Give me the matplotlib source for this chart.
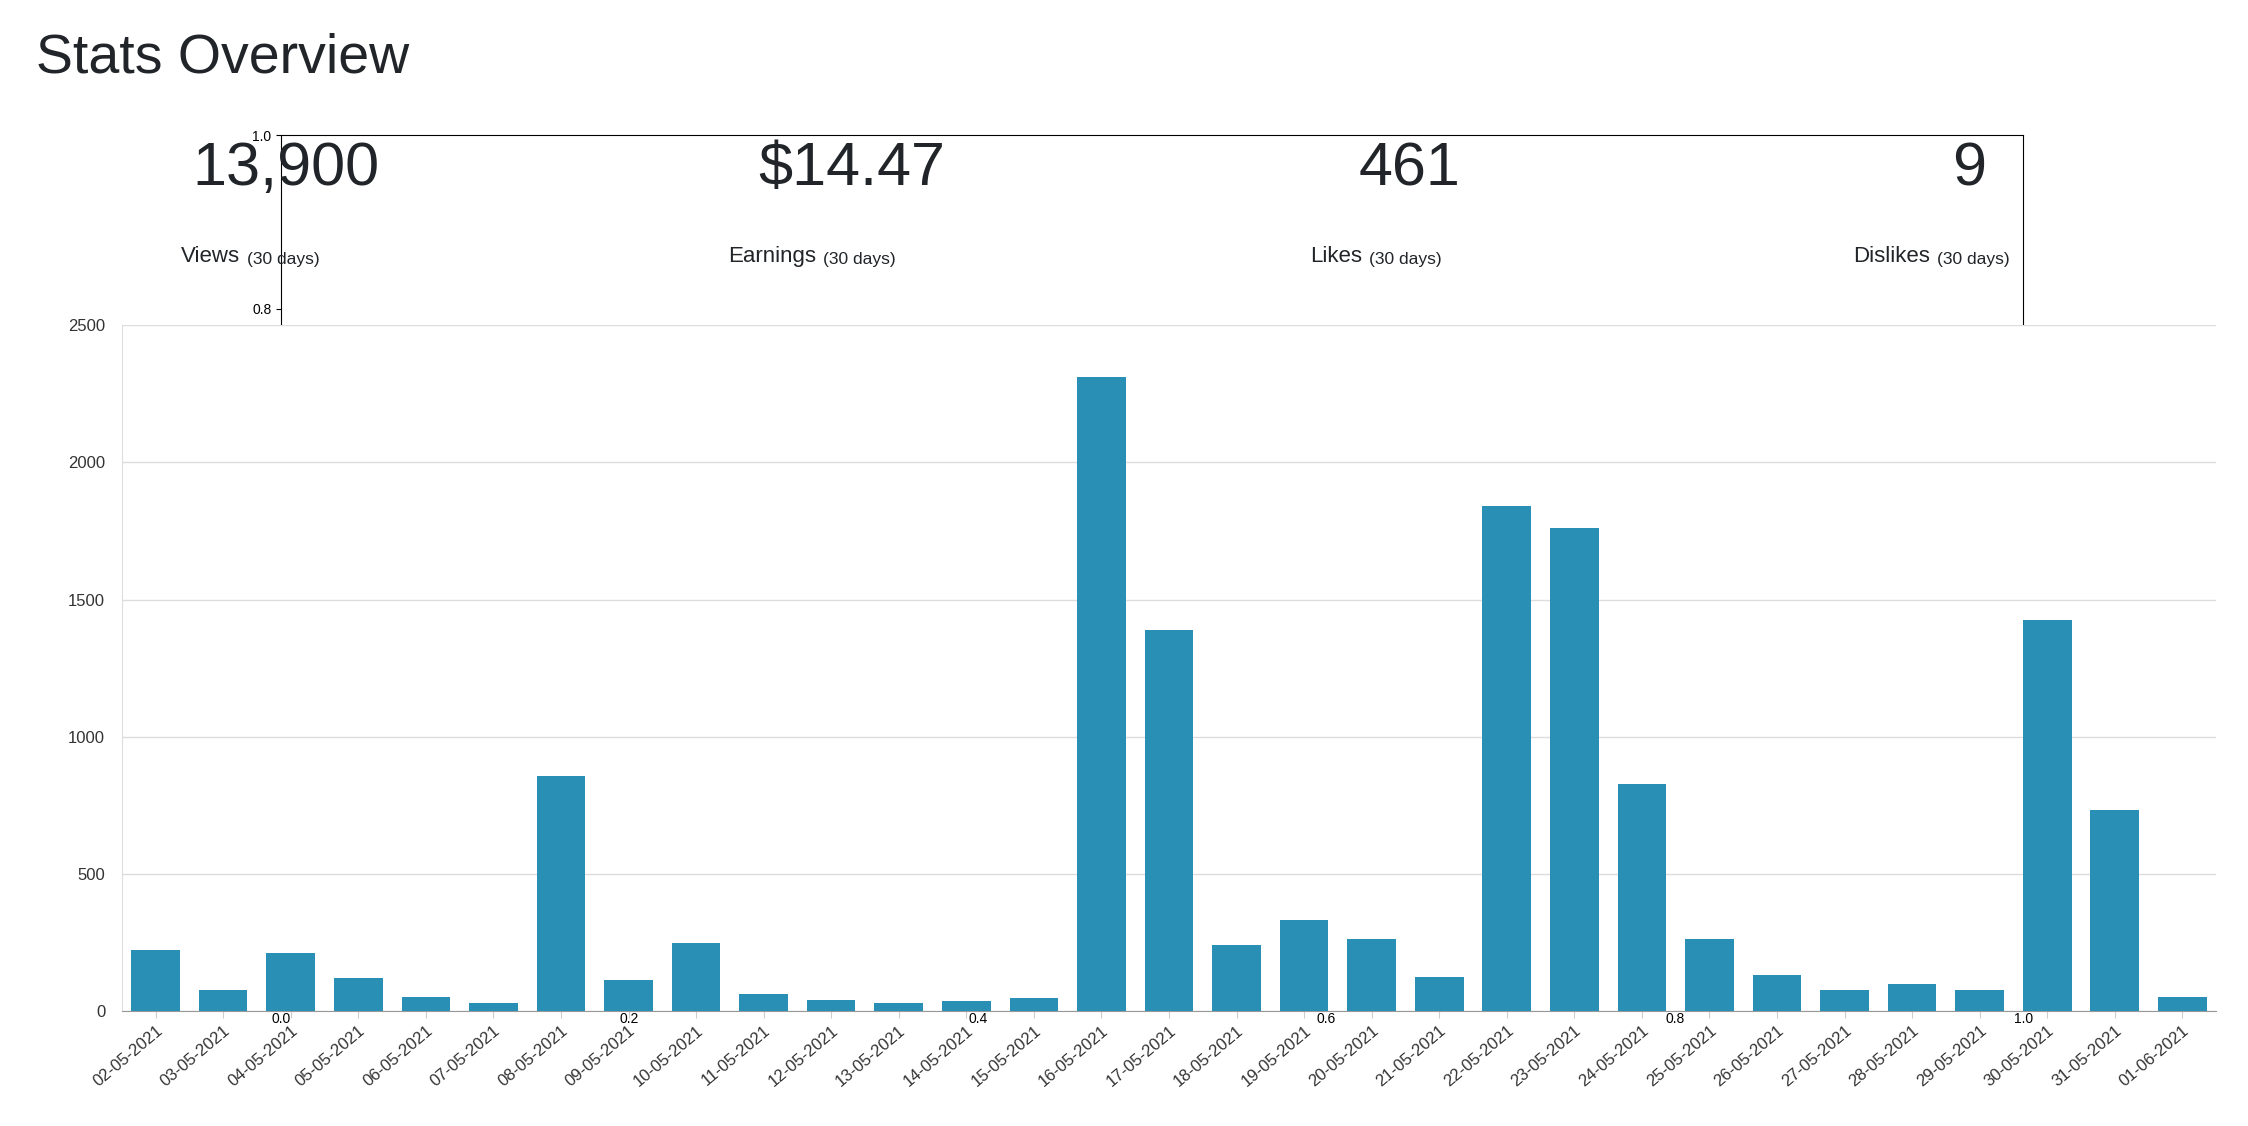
import matplotlib
matplotlib.use("Agg")
import matplotlib.pyplot as plt

dates = ["02-05-2021","03-05-2021","04-05-2021","05-05-2021","06-05-2021","07-05-2021","08-05-2021",
         "09-05-2021","10-05-2021","11-05-2021","12-05-2021","13-05-2021","14-05-2021","15-05-2021",
         "16-05-2021","17-05-2021","18-05-2021","19-05-2021","20-05-2021","21-05-2021","22-05-2021",
         "23-05-2021","24-05-2021","25-05-2021","26-05-2021","27-05-2021","28-05-2021","29-05-2021",
         "30-05-2021","31-05-2021","01-06-2021"]
views = [222,79,211,122,53,32,856,116,248,63,42,32,37,48,2310,1390,243,333,264,127,1839,1760,830,264,132,79,100,79,1427,735,53]
stat_values = ["13,900", "$14.47", "461", "9"]
stat_labels = ["Views", "Earnings", "Likes", "Dislikes"]

plt.rcParams['font.family'] = ['Liberation Sans', 'DejaVu Sans']
W, H = 1550, 776
fig = plt.figure(figsize=(22.48, 11.26), dpi=100)
fig.text(25/W, 1-40/H, "Stats Overview", fontsize=40, va='center', ha='left', color='#212529')

centers = [197, 587, 972, 1358]
starts = [125, 502, 903, 1278]
for c, s, v, l in zip(centers, starts, stat_values, stat_labels):
    fig.text(c/W, 1-117/H, v, fontsize=44, ha='center', va='center', color='#212529')
    t = fig.text(s/W, 1-177/H, l, fontsize=16, ha='left', va='center', color='#212529')
    fig.text(0, 0, "", alpha=0)
    plt.annotate("(30 days)", xy=(1, 0), xycoords=t, xytext=(5, 0), textcoords='offset points',
                 fontsize=12.5, ha='left', va='bottom', color='#212529')

ax = fig.add_axes([84/W, 1-697/H, (1528-84)/W, (697-224)/H])
x = range(len(dates))
ax.bar(x, views, width=0.72, color='#2a8fb5', zorder=3)
ax.set_xlim(-0.5, len(dates)-0.5)
ax.set_ylim(0, 2500)
ax.set_yticks([0, 500, 1000, 1500, 2000, 2500])
ax.set_xticks(list(x))
ax.set_xticklabels(dates, rotation=40, ha='right', rotation_mode='anchor', fontsize=12, color='#333333')
ax.tick_params(axis='y', labelsize=12, labelcolor='#333333', length=0, pad=12)
ax.tick_params(axis='x', length=5, color='#cccccc')
ax.grid(axis='y', color='#dddddd', linewidth=1, zorder=0)
for s in ['top', 'right']:
    ax.spines[s].set_visible(False)
ax.spines['left'].set_color('#dddddd')
ax.spines['bottom'].set_color('#999999')
fig.savefig("out.png", dpi=100)
